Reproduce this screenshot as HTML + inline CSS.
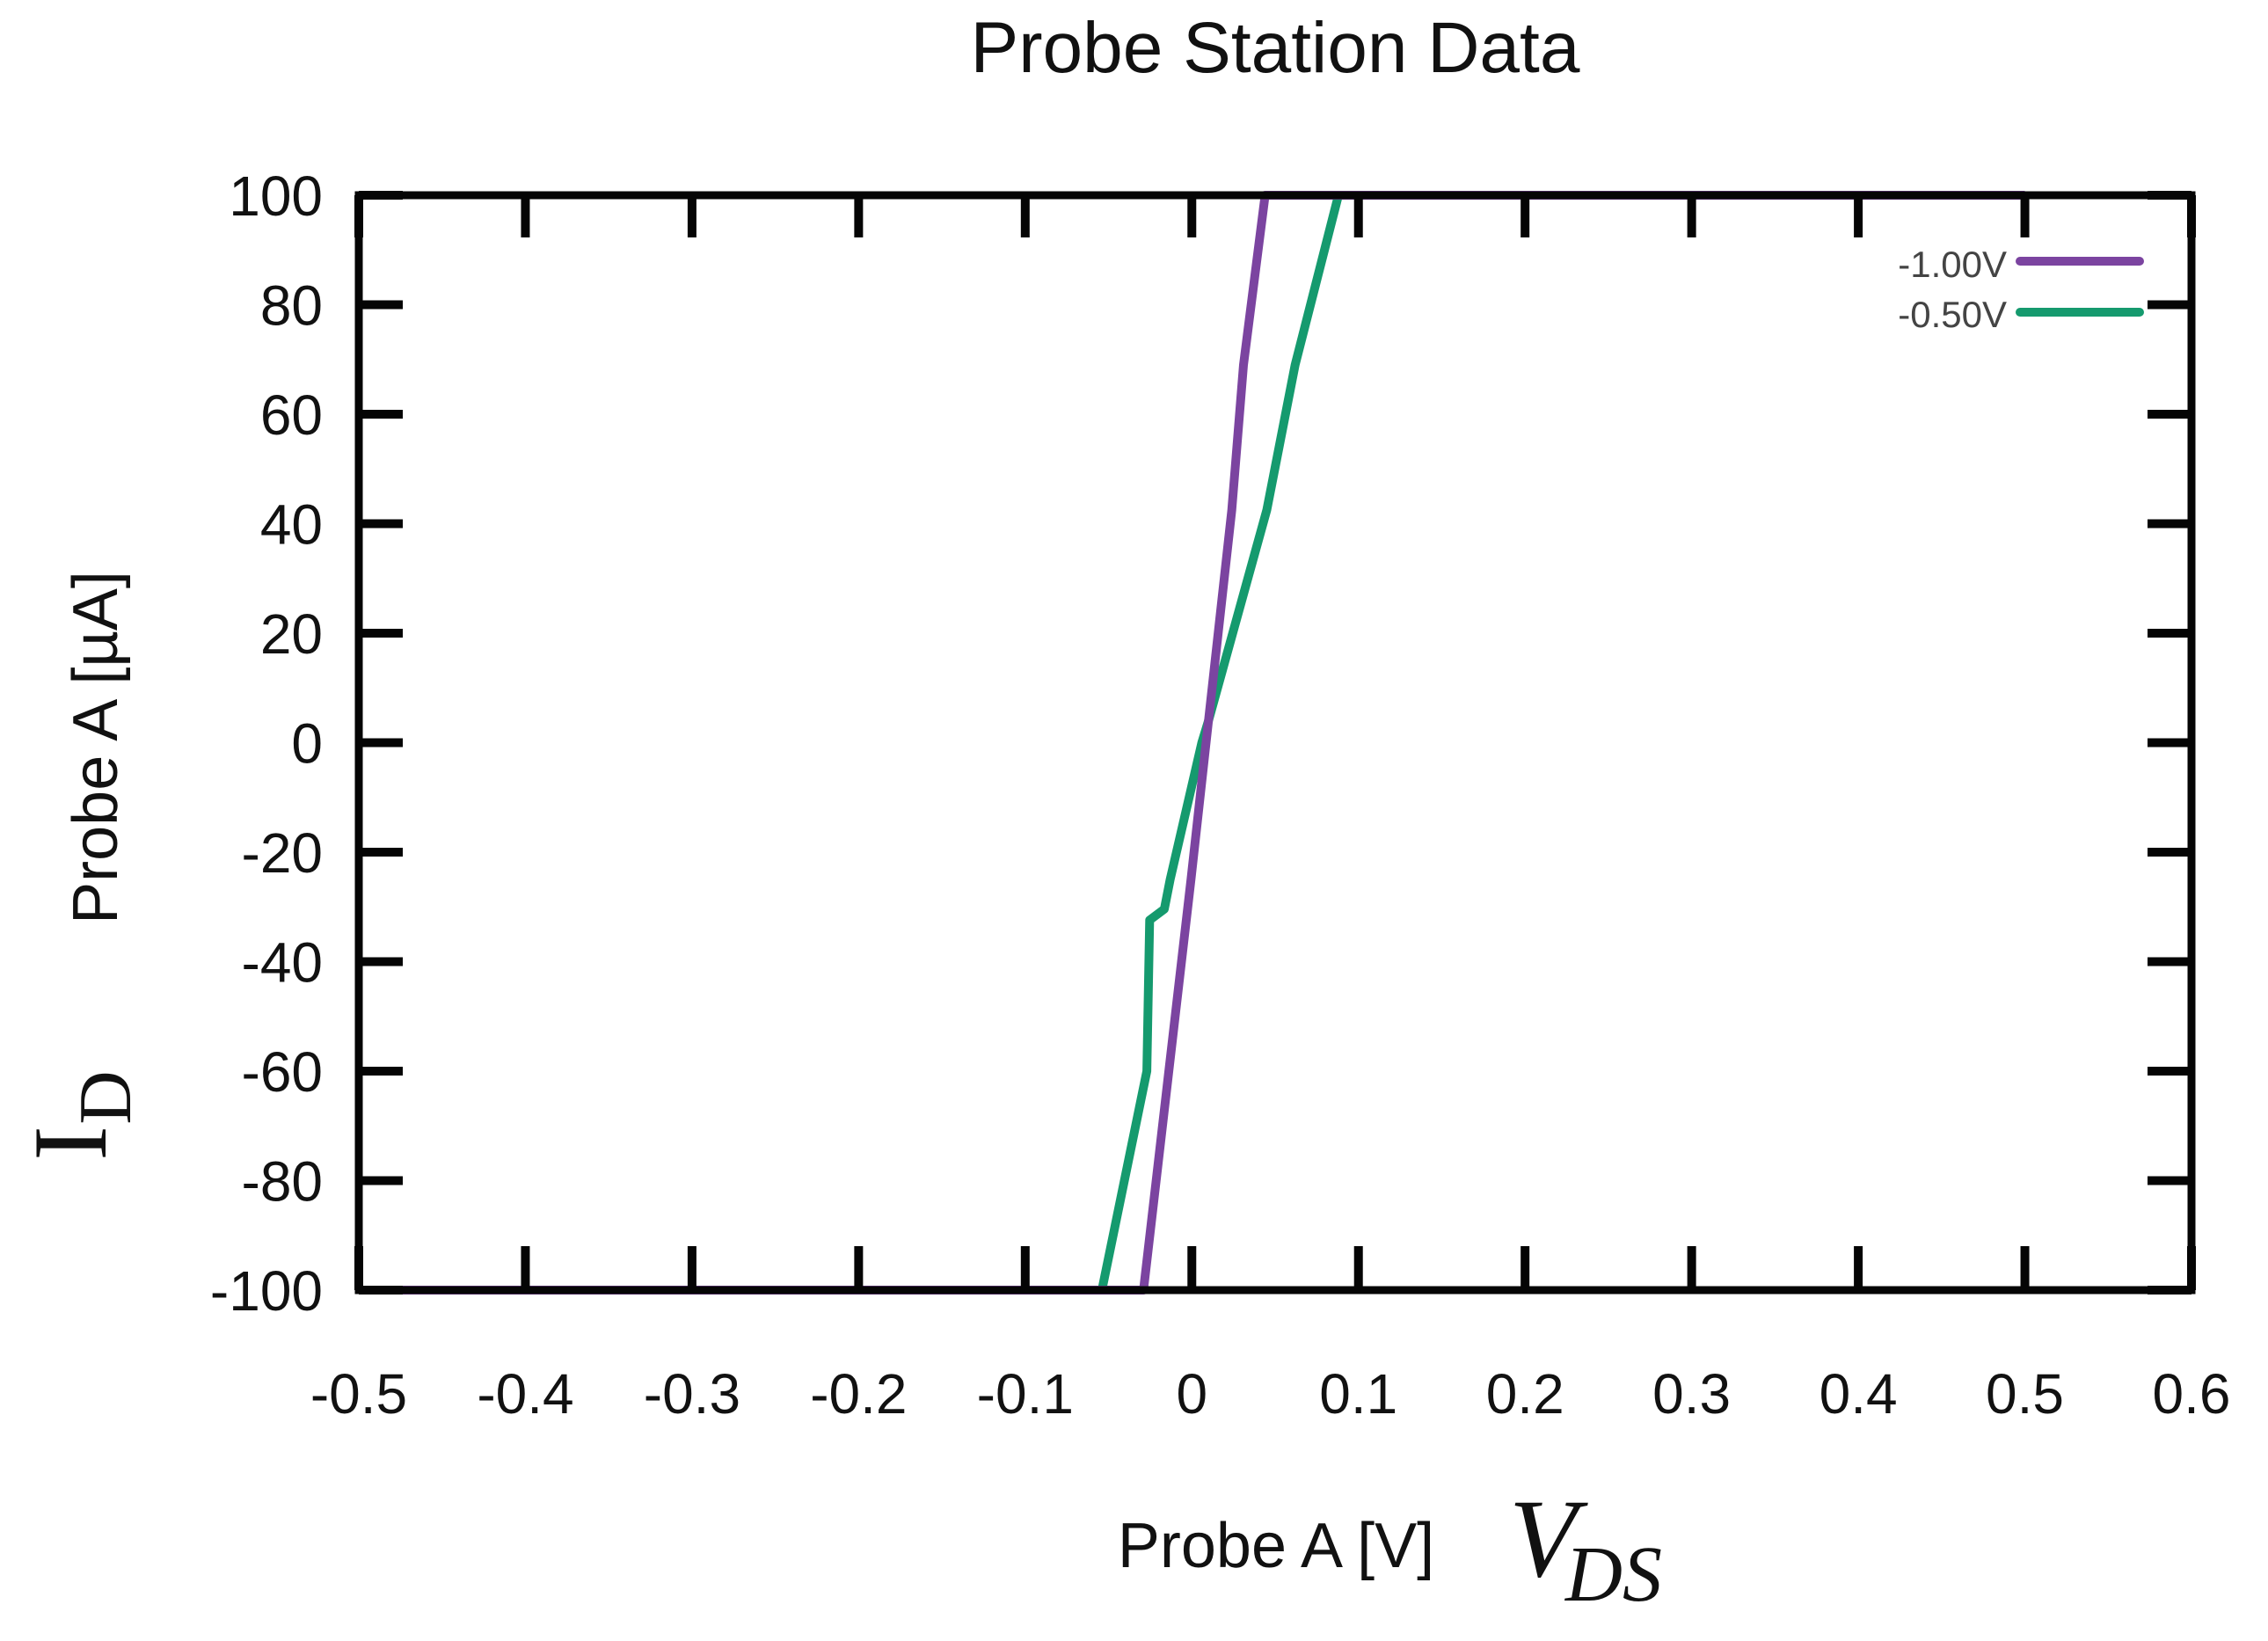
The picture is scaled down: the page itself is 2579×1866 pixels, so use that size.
<!DOCTYPE html>
<html><head><meta charset="utf-8"><style>
html,body{margin:0;padding:0;background:#fff;}
svg{display:block;}
</style></head><body>
<svg id="chart" width="2579" height="1866" viewBox="0 0 2579 1866" xmlns="http://www.w3.org/2000/svg" font-family="'Liberation Sans', sans-serif">
<rect width="2579" height="1866" fill="#fff"/>
<text x="1450" y="82" font-size="82" text-anchor="middle" fill="#111">Probe Station Data</text>
<g id="series"></g>
<g id="axes"></g>
<text transform="translate(133,850) rotate(-90)" font-size="72" text-anchor="middle" fill="#111">Probe A [µA]</text>
<text transform="translate(120,1300) rotate(-90)" font-family="'Liberation Serif', serif" font-size="120" text-anchor="middle" fill="#111">I</text>
<text transform="translate(148,1248) rotate(-90)" font-family="'Liberation Serif', serif" font-size="85" text-anchor="middle" fill="#111">D</text>
<text x="1451" y="1782" font-size="72" text-anchor="middle" fill="#111">Probe A [V]</text>
<text x="1716" y="1792" font-family="'Liberation Serif', serif" font-style="italic" font-size="127" fill="#111">V</text>
<text x="1780" y="1820" font-family="'Liberation Serif', serif" font-style="italic" font-size="90" fill="#111">DS</text>
<g>
<text x="2282" y="315" font-size="42" text-anchor="end" fill="#444">-1.00V</text>
<line x1="2297" y1="297" x2="2433" y2="297" stroke="#7b44a0" stroke-width="10" stroke-linecap="round"/>
<text x="2282" y="372" font-size="42" text-anchor="end" fill="#444">-0.50V</text>
<line x1="2297" y1="355" x2="2433" y2="355" stroke="#159a6e" stroke-width="10" stroke-linecap="round"/>
</g>
</svg>
<script>
const xTicks = [-0.5,-0.4,-0.3,-0.2,-0.1,0,0.1,0.2,0.3,0.4,0.5,0.6];
const xTickLabels = ["-0.5","-0.4","-0.3","-0.2","-0.1","0","0.1","0.2","0.3","0.4","0.5","0.6"];
const yTicks = [-100,-80,-60,-40,-20,0,20,40,60,80,100];
const yTickLabels = ["-100","-80","-60","-40","-20","0","20","40","60","80","100"];
const purpleV = [-0.49,-0.029,-0.0005,0.010,0.024,0.031,0.044,0.5];
const purpleI = [-100,-100,-25,4,42.5,69,100,100];
const greenV = [-0.49,-0.054,-0.027,-0.0253,-0.0165,-0.013,0.006,0.010,0.045,0.053,0.062,0.088,0.5];
const greenI = [-100,-100,-60,-32.4,-30.4,-25,0,4,42.5,55,69,100,100];

const NS = "http://www.w3.org/2000/svg";
const L = 408, R = 2492, T = 222, B = 1467;
function xs(v){ return L + (v - (-0.5)) / 1.1 * (R - L); }
function ys(v){ return B - (v - (-100)) / 200 * (B - T); }

const series = document.getElementById('series');
function drawLine(vx, vy, color, name){
  const p = document.createElementNS(NS,'polyline');
  p.setAttribute('points', vx.map((v,i)=>xs(v).toFixed(1)+','+ys(vy[i]).toFixed(1)).join(' '));
  p.setAttribute('fill','none');
  p.setAttribute('stroke',color);
  p.setAttribute('stroke-width','10');
  p.setAttribute('stroke-linejoin','round');
  
  
  series.appendChild(p);
}
drawLine(greenV, greenI, '#159a6e', 'series-minus-0.50v');
drawLine(purpleV, purpleI, '#7b44a0', 'series-minus-1.00v');

const axes = document.getElementById('axes');
function ln(x1,y1,x2,y2,name){
  const l = document.createElementNS(NS,'line');
  l.setAttribute('x1',x1); l.setAttribute('y1',y1); l.setAttribute('x2',x2); l.setAttribute('y2',y2);
  l.setAttribute('stroke','#050505'); l.setAttribute('stroke-width','10');
  
  
  axes.appendChild(l);
}
function tx(x,y,s,anchor,name){
  const t = document.createElementNS(NS,'text');
  t.setAttribute('x',x); t.setAttribute('y',y); t.setAttribute('font-size','64');
  t.setAttribute('text-anchor',anchor); t.setAttribute('fill','#111');
  t.textContent = s;
  
  
  axes.appendChild(t);
}
xTicks.forEach((v,i)=>{
  const x = xs(v);
  ln(x,B,x,B-50,'x-tick-bottom');
  ln(x,T,x,T+48,'x-tick-top');
  tx(x,1607,xTickLabels[i],'middle','x-tick-label');
});
yTicks.forEach((v,i)=>{
  const y = ys(v);
  ln(L,y,L+50,y,'y-tick-left');
  ln(R,y,R-50,y,'y-tick-right');
  tx(367,y+23,yTickLabels[i],'end','y-tick-label');
});
const frame = document.createElementNS(NS,'rect');
frame.setAttribute('x',L); frame.setAttribute('y',T);
frame.setAttribute('width',R-L); frame.setAttribute('height',B-T);
frame.setAttribute('fill','none'); frame.setAttribute('stroke','#050505'); frame.setAttribute('stroke-width','9');


axes.appendChild(frame);
</script>
</body></html>
